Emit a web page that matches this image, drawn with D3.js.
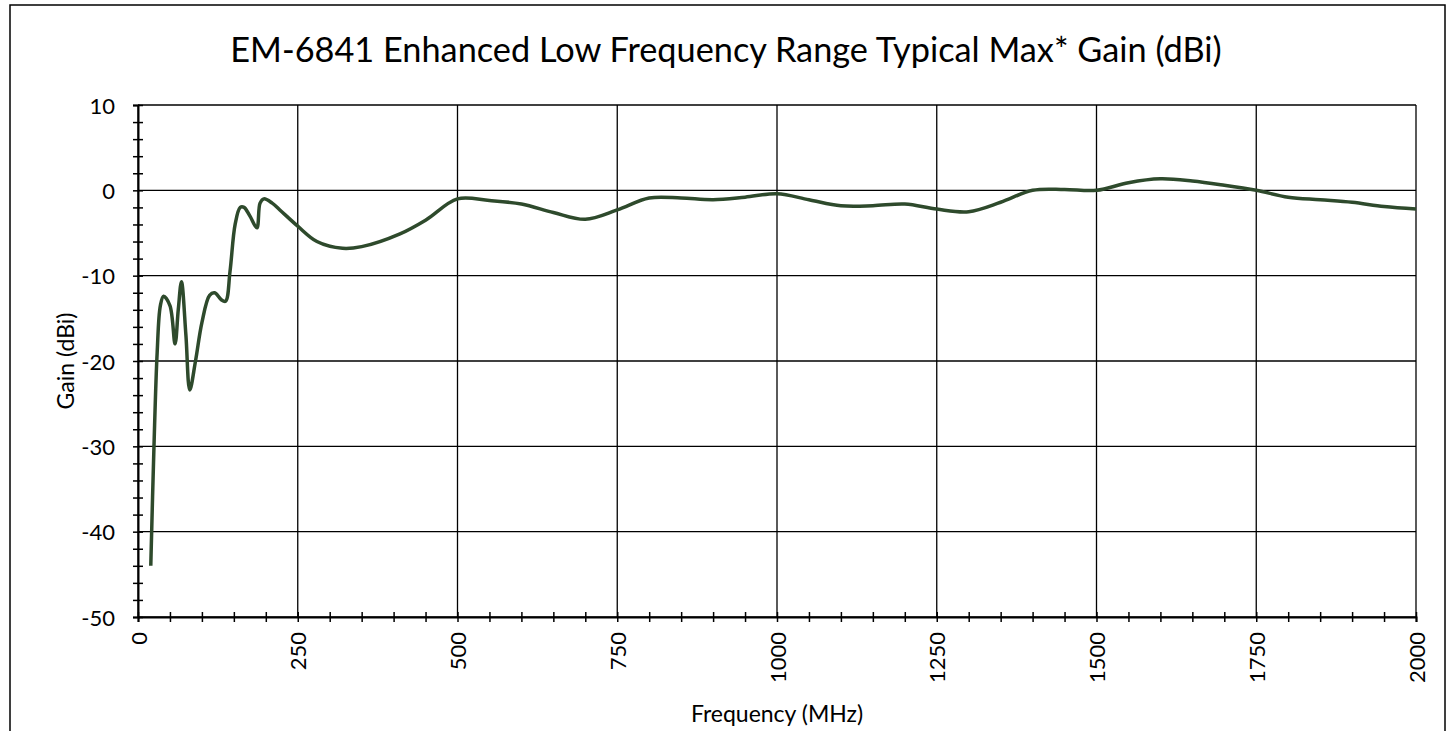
<!DOCTYPE html>
<html>
<head>
<meta charset="utf-8">
<script src="https://cdn.jsdelivr.net/npm/d3@7"></script>
<style>
  body { margin: 0; background: #fff; }
  text { font-family: Lato, "Open Sans", sans-serif; fill: #000; }
</style>
</head>
<body>
<svg id="chart" width="1449" height="731"></svg>
<script>
// Frequency (MHz) and typical max gain (dBi)
const freqs = [20, 25, 30, 35, 40, 50, 58, 63, 68, 75, 81, 90, 100, 112, 120, 130, 137, 144, 152, 160,
  166, 175, 186, 191, 197, 210, 222, 250, 280, 320, 350, 410, 450, 500, 550, 600, 650, 700, 750,
  800, 850, 900, 950, 1000, 1050, 1100, 1150, 1200, 1250, 1300, 1350, 1400, 1450, 1500, 1550,
  1600, 1650, 1700, 1750, 1800, 1850, 1900, 1950, 2000];
const gains = [-44, -30, -19, -13.5, -12.4, -13.5, -18, -14, -10.7, -17, -23.4, -20, -15.5, -12.3, -12, -12.8, -13, -9.5, -4, -2,
  -2, -3, -4.4, -1.5, -1, -1.5, -2.3, -4.2, -6, -6.8, -6.6, -5.1, -3.5, -1, -1.2, -1.6, -2.6, -3.4, -2.3,
  -0.9, -0.9, -1.1, -0.8, -0.4, -1.1, -1.8, -1.8, -1.6, -2.2, -2.5, -1.4, 0, 0.1, 0, 0.9,
  1.35, 1.1, 0.6, 0, -0.8, -1.1, -1.4, -1.9, -2.2];
const xTicks = [0, 250, 500, 750, 1000, 1250, 1500, 1750, 2000];
const yTicks = [10, 0, -10, -20, -30, -40, -50];

const titleText = 'EM-6841 Enhanced Low Frequency Range Typical Max* Gain (dBi)';

const svg = d3.select('#chart');
const plotLeft = 138, plotRight = 1416, plotTop = 105, plotBottom = 617;

const x = d3.scaleLinear().domain([0, 2000]).range([plotLeft, plotRight]);
const y = d3.scaleLinear().domain([-50, 10]).range([plotBottom, plotTop]);

// outer chart border
svg.append('rect')
    .attr('x', 10).attr('y', 5)
    .attr('width', 1435).attr('height', 740)
    .attr('fill', 'none')
    .attr('stroke', '#000')
    .attr('stroke-width', 1.5);

// title, fitted to the width it has in the reference
const title = svg.append('text')
    .attr('x', 726).attr('y', 62)
    .attr('text-anchor', 'middle')
    .style('font-size', '31px')
    .text(titleText);
const tw = title.node().getComputedTextLength();
title.style('font-size', (31 * 992 / tw) + 'px');

// grid lines
svg.append('g').selectAll('line')
    .data(xTicks)
    .join('line')
    .attr('x1', d => x(d)).attr('x2', d => x(d))
    .attr('y1', plotTop).attr('y2', plotBottom)
    .attr('stroke', '#000').attr('stroke-width', 1.3);

svg.append('g').selectAll('line')
    .data(yTicks)
    .join('line')
    .attr('x1', plotLeft).attr('x2', plotRight)
    .attr('y1', d => y(d)).attr('y2', d => y(d))
    .attr('stroke', '#000').attr('stroke-width', 1.3);

// axes with crossing ticks
const xAxis = svg.append('g')
    .attr('transform', `translate(0,${plotBottom})`)
    .call(d3.axisBottom(x).tickValues(d3.range(0, 2001, 50)).tickSize(5).tickFormat(''));
xAxis.select('.domain').attr('stroke-width', 2);
xAxis.selectAll('.tick line').attr('y1', -5).attr('stroke-width', 1.5);

const yAxis = svg.append('g')
    .attr('transform', `translate(${plotLeft},0)`)
    .call(d3.axisLeft(y).tickValues(d3.range(-50, 11, 2)).tickSize(5).tickFormat(''));
yAxis.select('.domain').attr('stroke-width', 2);
yAxis.selectAll('.tick line').attr('x1', 5).attr('stroke-width', 1.5);

// tick labels
svg.append('g').selectAll('text')
    .data(yTicks)
    .join('text')
    .attr('x', 115)
    .attr('y', d => y(d))
    .attr('text-anchor', 'end')
    .attr('dominant-baseline', 'central')
    .style('font-size', '22px')
    .text(d => d);

svg.append('g').selectAll('text')
    .data(xTicks)
    .join('text')
    .attr('transform', d => `translate(${x(d)},632) rotate(-90)`)
    .attr('text-anchor', 'end')
    .attr('dominant-baseline', 'central')
    .style('font-size', '22px')
    .text(d => d);

// axis titles
svg.append('text')
    .attr('x', 777).attr('y', 722)
    .attr('text-anchor', 'middle')
    .style('font-size', '23px')
    .text('Frequency (MHz)');

svg.append('text')
    .attr('transform', 'translate(74,361) rotate(-90)')
    .attr('text-anchor', 'middle')
    .style('font-size', '23px')
    .text('Gain (dBi)');

// gain curve
const points = freqs.map((f, i) => [f, gains[i]]);
const line = d3.line()
    .x(d => x(d[0]))
    .y(d => y(d[1]))
    .curve(d3.curveCatmullRom.alpha(0.5));

svg.append('path')
    .datum(points)
    .attr('d', line)
    .attr('fill', 'none')
    .attr('stroke', '#2e4a2c')
    .attr('stroke-width', 3.5)
    .attr('stroke-linejoin', 'round');
</script>
</body>
</html>
